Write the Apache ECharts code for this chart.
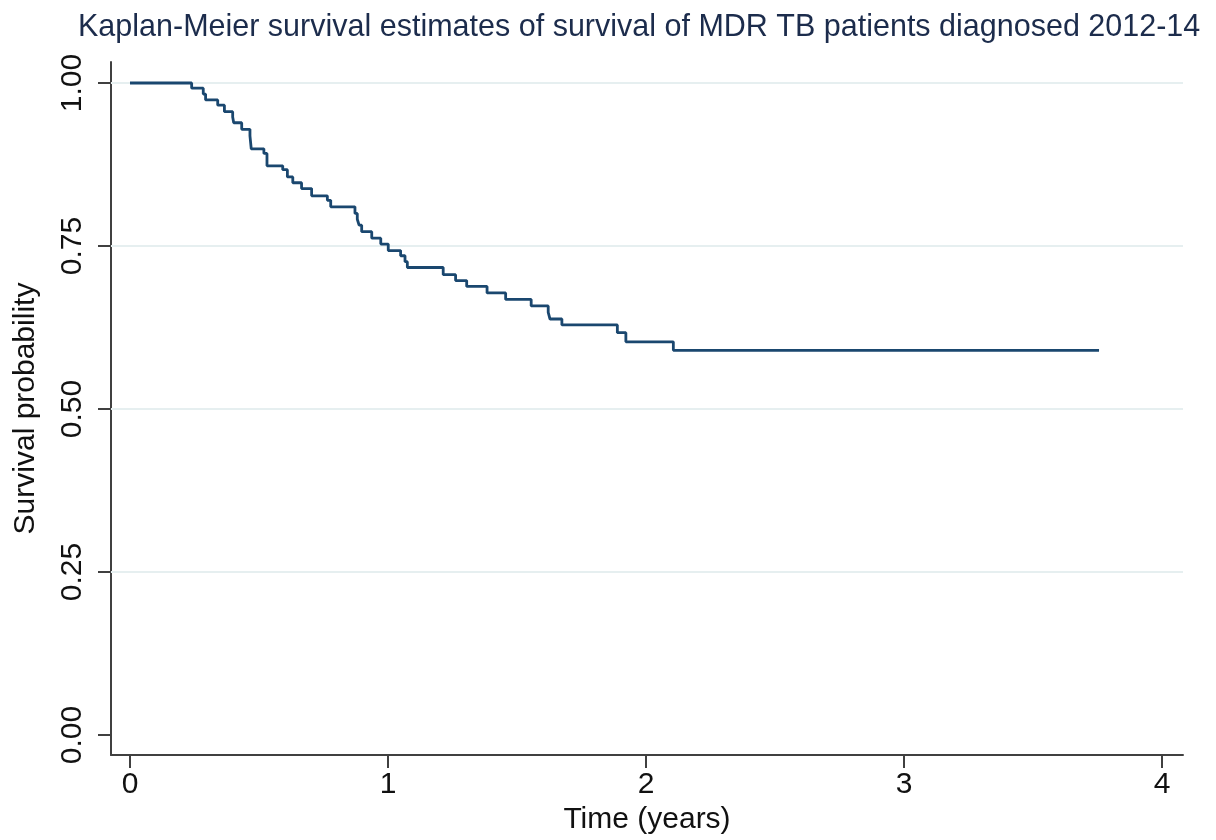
<!DOCTYPE html>
<html>
<head>
<meta charset="utf-8">
<script src="https://cdn.jsdelivr.net/npm/echarts@6/dist/echarts.min.js"></script>
<style>
html,body{margin:0;padding:0;background:#fff;}
#chart{width:1216px;height:840px;}
</style>
</head>
<body>
<div id="chart"></div>
<script>
// Kaplan-Meier step points: time (years) and survival probability after each event
const times = [0, 0.239, 0.284, 0.293, 0.340, 0.366, 0.398, 0.402, 0.433, 0.465, 0.470, 0.519, 0.531, 0.592, 0.610, 0.631, 0.665, 0.704, 0.765, 0.778, 0.872, 0.881, 0.888, 0.898, 0.937, 0.972, 1.001, 1.049, 1.066, 1.075, 1.214, 1.262, 1.305, 1.384, 1.456, 1.555, 1.621, 1.628, 1.674, 1.889, 1.922, 2.106, 3.756];
const survival = [1.000, 0.992, 0.983, 0.974, 0.966, 0.956, 0.948, 0.939, 0.929, 0.919, 0.899, 0.892, 0.873, 0.867, 0.856, 0.847, 0.838, 0.827, 0.820, 0.810, 0.800, 0.791, 0.782, 0.772, 0.762, 0.753, 0.743, 0.735, 0.726, 0.717, 0.706, 0.697, 0.688, 0.678, 0.668, 0.658, 0.648, 0.638, 0.629, 0.617, 0.603, 0.590, 0.590];
const xTicks = [0, 1, 2, 3, 4];
const yTicks = [0, 0.25, 0.5, 0.75, 1];
const gridValues = [0.25, 0.5, 0.75, 1];

const FONT = '"Liberation Sans", Arial, sans-serif';
const chart = echarts.init(document.getElementById('chart'));
const data = times.map((t, i) => [t, survival[i]]);

chart.setOption({
  animation: false,
  backgroundColor: '#ffffff',
  title: {
    text: 'Kaplan-Meier survival estimates of survival of MDR TB patients diagnosed 2012-14',
    left: 78, top: 12, padding: 0,
    textStyle: { fontFamily: FONT, fontSize: 30.5, fontWeight: 'normal', color: '#1c2c4c' }
  },
  grid: { left: 111, right: 33, top: 62, bottom: 85 },
  xAxis: {
    type: 'value',
    min: -0.0736, max: 4.0814,
    name: 'Time (years)', nameLocation: 'middle', nameGap: 49,
    nameTextStyle: { fontFamily: FONT, fontSize: 30, color: '#111' },
    axisLine: { show: true, onZero: false, lineStyle: { color: '#404040', width: 2 } },
    axisTick: { show: true, length: 13, customValues: xTicks, lineStyle: { color: '#404040', width: 2 } },
    axisLabel: { customValues: xTicks, margin: 15, fontFamily: FONT, fontSize: 30, color: '#111',
      formatter: v => String(v) },
    splitLine: { show: false }
  },
  yAxis: {
    type: 'value',
    min: -0.0307, max: 1.0322,
    name: 'Survival probability', nameLocation: 'middle', nameGap: 70, nameRotate: 90,
    nameTextStyle: { fontFamily: FONT, fontSize: 30, color: '#111' },
    axisLine: { show: true, onZero: false, lineStyle: { color: '#404040', width: 2 } },
    axisTick: { show: true, length: 13, customValues: yTicks, lineStyle: { color: '#404040', width: 2 } },
    axisLabel: { customValues: yTicks, rotate: 90, margin: 23, fontFamily: FONT, fontSize: 30, color: '#111',
      formatter: v => v.toFixed(2) },
    splitLine: { show: false }
  },
  series: [{
    type: 'line',
    step: 'end',
    data: data,
    showSymbol: false,
    symbol: 'none',
    lineStyle: { color: '#1a476f', width: 2.8 },
    z: 5,
    markLine: {
      silent: true,
      symbol: ['none', 'none'],
      label: { show: false },
      lineStyle: { color: '#e6eff0', width: 2, type: 'solid' },
      data: gridValues.map(v => ({ yAxis: v })),
      z: 1
    }
  }]
});
</script>
</body>
</html>
